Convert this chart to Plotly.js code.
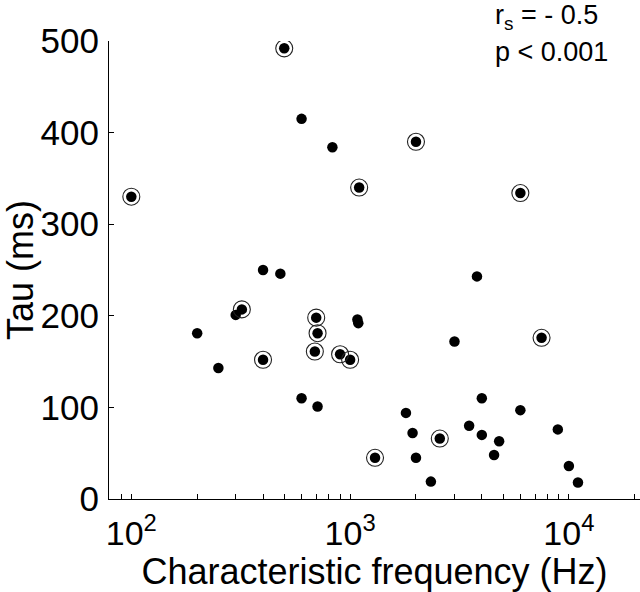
<!DOCTYPE html>
<html>
<head>
<meta charset="utf-8">
<script src="https://cdn.plot.ly/plotly-3.0.1.min.js"></script>
<style>
  html, body { margin: 0; padding: 0; background: #fff; }
  #chart { width: 640px; height: 592px; }
</style>
</head>
<body>
<div id="chart"></div>
<script>
// Tau vs characteristic frequency (log x); ringed points drawn on top of the dots

// plain units (filled dot only)
const cfPlain  = [600, 830, 400, 480, 3800, 300, 200, 1080, 1090, 250, 600, 710, 1800, 1930,
                  2000, 2340, 4000, 3500, 4000, 4800, 4550, 6000, 8900, 3000, 10000, 11000];
const tauPlain = [415, 384, 250, 246, 243, 201, 181, 196, 192, 143, 110, 101, 94, 72,
                  45, 19, 110, 80, 70, 63, 48, 97, 76, 172, 36, 18];

// ringed units (dot + circle)
const cfRing  = [500, 100, 2000, 1100, 6000, 320, 700, 710, 690, 900, 1000, 400, 1300, 2570, 7500];
const tauRing = [492, 330, 390, 340, 334, 207, 198, 181, 161, 158, 152, 152, 45, 66, 176];

const xTickVals  = [100, 1000, 10000];
const xTickText  = ['10<sup>2</sup>', '10<sup>3</sup>', '10<sup>4</sup>'];
const xMinorVals = [90, 200, 300, 400, 500, 600, 700, 800, 900,
                    2000, 3000, 4000, 5000, 6000, 7000, 8000, 9000, 20000];
const yTickVals  = [0, 100, 200, 300, 400, 500];

const FONT = '"Liberation Sans", Arial, Helvetica, sans-serif';

const dots = {
    type: 'scatter', mode: 'markers',
    x: cfPlain.concat(cfRing), y: tauPlain.concat(tauRing),
    marker: { color: '#000', size: 10.5, line: { width: 0 } },
    hoverinfo: 'x+y',
};
const rings = {
    type: 'scatter', mode: 'markers',
    x: cfRing, y: tauRing,
    marker: { symbol: 'circle-open', color: '#222', size: 17, line: { width: 1.1, color: '#222' } },
    hoverinfo: 'skip',
};

const layout = {
    width: 640, height: 592,
    paper_bgcolor: '#fff', plot_bgcolor: '#fff',
    showlegend: false,
    font: { family: FONT, color: '#000', size: 34 },
    margin: { l: 109, r: 0, t: 41, b: 93 },
    xaxis: {
        type: 'log', range: [1.898, 4.325],
        tickmode: 'array', tickvals: xTickVals, ticktext: xTickText,
        ticks: 'inside', ticklen: 5, tickwidth: 1, tickcolor: '#000',
        minor: { tickmode: 'array', tickvals: xMinorVals, ticks: 'inside', ticklen: 5,
                 tickwidth: 1, tickcolor: '#000', showgrid: false },
        showline: true, linecolor: '#000', linewidth: 1,
        showgrid: false, zeroline: false,
        tickfont: { size: 34 }, ticklabelstandoff: 4,
        title: { text: 'Characteristic frequency (Hz)', font: { size: 36 }, standoff: 2 },
    },
    yaxis: {
        range: [0, 500],
        tickmode: 'array', tickvals: yTickVals,
        ticks: 'inside', ticklen: 5, tickwidth: 1, tickcolor: '#000',
        showline: true, linecolor: '#000', linewidth: 1,
        showgrid: false, zeroline: false,
        tickfont: { size: 35 }, ticklabelstandoff: 2,
        title: { text: 'Tau (ms)', font: { size: 36 }, standoff: 0 },
    },
    annotations: [
        { xref: 'paper', yref: 'paper', x: 0.723, y: 1.052, xanchor: 'left', yanchor: 'middle',
          text: 'r<sub>s</sub> = - 0.5', showarrow: false, font: { size: 27 } },
        { xref: 'paper', yref: 'paper', x: 0.723, y: 0.976, xanchor: 'left', yanchor: 'middle',
          text: 'p &lt; 0.001', showarrow: false, font: { size: 27 } },
    ],
};

Plotly.newPlot('chart', [dots, rings], layout, { staticPlot: true, displayModeBar: false });
</script>
</body>
</html>
